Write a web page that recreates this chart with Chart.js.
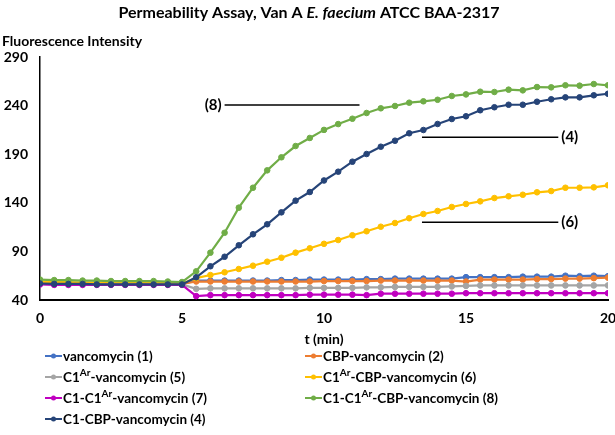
<!DOCTYPE html>
<html><head><meta charset="utf-8">
<script src="https://cdn.jsdelivr.net/npm/chart.js@4.4.1/dist/chart.umd.min.js"></script>
<style>html,body{margin:0;padding:0;background:#fff}#wrap{width:615px;height:435px;position:relative}</style>
</head><body><div id="wrap"><canvas id="c"></canvas></div>
<script>
const times = [0,0.5,1,1.5,2,2.5,3,3.5,4,4.5,5,5.5,6,6.5,7,7.5,8,8.5,9,9.5,10,10.5,11,11.5,12,12.5,13,13.5,14,14.5,15,15.5,16,16.5,17,17.5,18,18.5,19,19.5,20];
const xTicks = [0,5,10,15,20];
const yTicks = [40,90,140,190,240,290];

const vancomycin1 = [57.5,57,57,57,56.5,56.5,56.5,56.5,56.5,56.5,56.5,
  60,60,60,60,60,60,60.5,60.5,61,61, 61,61,61.5,61.5,62,62,62,62,62,63.5, 63.5,63.5,63.5,64,64,64,65,64.5,65,64.5];
const cbpVancomycin2 = [58,57.5,57.5,57.5,57,57,57,57,57,57,56.5,
  59,59,59,59,59,59,59,59,59,59.5, 59.5,59.5,59.5,60,60,60,60,60,60,59, 61,61,61,61,61.5,61.5,62,62,62.5,63];
const c1arVancomycin5 = [57,56.5,56.5,56.5,56.5,56.5,56.5,56.5,56.5,56.5,56,
  51.5,52,52,52,52,52,52,52,52.5,52.5, 52.5,52.5,53,53,53.5,53.5,53.5,53.5,54,54.5, 55,55,55,55,55,55,55,55,55,55];
const c1arCbpVancomycin6 = [59,58.5,58.5,58,58,58,58,58,58,57.5,57,
  62.5,65.7,68.5,71.9,75.3,79.4,83.5,88.7,93.2,97.8, 101.7,106.6,110.7,115.4,119.2,124.1,128.5,131.6,135.7,138.8, 141.5,144.9,146.7,148.3,150.8,152.1,155.5,155.5,155.9,158];
const c1c1arVancomycin7 = [56,55.5,55.5,55.5,55.5,55.5,55.5,55.5,55.5,55.5,55.5,
  44,45,45,45,45,45,45,45,45.5,45.5, 45.5,45.5,45,46.5,46.5,46.5,46.5,46.5,46.5,47, 47,47,47,47,47,47,47,47,47,47];
const c1c1arCbpVancomycin8 = [61,60.5,60.5,60,60,59.5,59.5,59.5,59.5,59,58.5,
  69.5,88.7,109.2,135,155.5,173.4,186.8,198.4,206.7,215, 221,226.5,232.4,237.2,239.6,243,244.4,246,249.9,251.5, 254.3,254,256.4,255.7,259.1,258.8,260.9,260.5,262.2,260.9];
const c1CbpVancomycin4 = [57,56.5,56.5,56.5,56,56,56,56,56,56,56,
  63.4,74.7,84.5,96.3,107.6,117.9,130.2,142.2,151.1,163, 172,182.3,190.2,197.7,203.9,211.5,214.9,221.1,226.2,229, 235.2,238.3,240.9,240.9,244,246.5,248.5,248.5,250.6,252.2];

const seriesLabels = ['vancomycin (1)','CBP-vancomycin (2)','C1{Ar}-vancomycin (5)','C1{Ar}-CBP-vancomycin (6)','C1-C1{Ar}-vancomycin (7)','C1-C1{Ar}-CBP-vancomycin (8)','C1-CBP-vancomycin (4)'];
const seriesValues = [vancomycin1,cbpVancomycin2,c1arVancomycin5,c1arCbpVancomycin6,c1c1arVancomycin7,c1c1arCbpVancomycin8,c1CbpVancomycin4];
const seriesColors = ['#4472C4','#ED7D31','#A5A5A5','#FFC000','#C000C0','#70AD47','#264478'];

const annotations = [
  {text:'(8)', x0:6.5, x1:11.25, y:240.5, side:'left'},
  {text:'(4)', x0:13.45, x1:18.25, y:207.5, side:'right'},
  {text:'(6)', x0:13.45, x1:18.25, y:120, side:'right'}
];

const FONT = 'Lato, "Open Sans", sans-serif';

function drawRich(ctx, str, x, y, size) {
  const parts = str.split(/(\{[^}]*\})/).filter(s=>s.length);
  let cx = x;
  for (const p of parts) {
    if (p[0]==='{') {
      ctx.font = 'bold ' + Math.round(size*0.75) + 'px ' + FONT;
      ctx.fillText(p.slice(1,-1), cx, y - size*0.4);
      cx += ctx.measureText(p.slice(1,-1)).width;
    } else {
      ctx.font = 'bold ' + size + 'px ' + FONT;
      ctx.fillText(p, cx, y);
      cx += ctx.measureText(p).width;
    }
  }
}

const decor = {
  id:'decor',
  afterDraw(chart) {
    const ctx = chart.ctx; const xs = chart.scales.x, ys = chart.scales.y;
    ctx.save();
    ctx.fillStyle = '#000'; ctx.textBaseline = 'middle';
    // title
    const segs = [['Permeability Assay, Van A ','bold'],['E. faecium','italic bold'],[' ATCC BAA-2317','bold']];
    let total = 0;
    for (const s of segs) { ctx.font = s[1]+' 16px '+FONT; total += ctx.measureText(s[0]).width; }
    let tx = 309 - total/2;
    for (const s of segs) { ctx.font = s[1]+' 16px '+FONT; ctx.textAlign='left'; ctx.fillText(s[0], tx, 13); tx += ctx.measureText(s[0]).width; }
    // y title
    ctx.font = 'bold 14px '+FONT; ctx.textAlign='left';
    ctx.fillText('Fluorescence Intensity', 2, 41);
    // annotations
    ctx.strokeStyle = '#000'; ctx.lineWidth = 1.5;
    ctx.font = 'bold 15px '+FONT;
    for (const a of annotations) {
      const px0 = xs.getPixelForValue(a.x0), px1 = xs.getPixelForValue(a.x1), py = ys.getPixelForValue(a.y);
      ctx.beginPath(); ctx.moveTo(px0, py); ctx.lineTo(px1, py); ctx.stroke();
      if (a.side==='left') { ctx.textAlign='right'; ctx.fillText(a.text, px0-3, py); }
      else { ctx.textAlign='left'; ctx.fillText(a.text, px1+3, py); }
    }
    // legend
    ctx.textAlign='left';
    const colX = [45, 305], rowY = [356, 377, 398, 419];
    seriesLabels.forEach((lab, i) => {
      const x = colX[i%2], y = rowY[Math.floor(i/2)];
      ctx.strokeStyle = seriesColors[i]; ctx.lineWidth = 2;
      ctx.beginPath(); ctx.moveTo(x, y); ctx.lineTo(x+17, y); ctx.stroke();
      ctx.fillStyle = seriesColors[i];
      ctx.beginPath(); ctx.arc(x+8.5, y, 2.5, 0, Math.PI*2); ctx.fill();
      ctx.fillStyle = '#000';
      drawRich(ctx, lab, x+18, y+1, 13.5);
    });
    ctx.restore();
  }
};

const datasets = seriesValues.map((vals, i) => ({
  label: seriesLabels[i].replace(/[{}]/g,''),
  data: times.map((t, k) => ({x:t, y:vals[k]})),
  borderColor: seriesColors[i], backgroundColor: seriesColors[i],
  pointBackgroundColor: seriesColors[i], pointBorderColor: seriesColors[i],
  borderWidth: 2.2, pointRadius: 2.8, pointBorderWidth: 1, tension: 0,
  order: seriesLabels.length - i
}));

const tickFont = {family: FONT, weight:'bold', size:14};
new Chart(document.getElementById('c'), {
  type:'line',
  data:{datasets},
  options:{
    responsive:true, maintainAspectRatio:false, animation:false,
    layout:{padding:{top:57,left:0,right:7,bottom:85}},
    plugins:{legend:{display:false}, title:{display:false}, tooltip:{enabled:false}},
    scales:{
      x:{type:'linear', min:0, max:20,
        afterBuildTicks:s=>{s.ticks = xTicks.map(v=>({value:v}));},
        grid:{display:false, drawTicks:false},
        border:{display:true, color:'#000', width:2},
        ticks:{color:'#000', font:tickFont, padding:10, maxRotation:0, autoSkip:false},
        title:{display:true, text:'t (min)', color:'#000', font:tickFont, padding:{top:2,bottom:2}},
        afterFit:s=>{s.height=50; s.paddingLeft=0; s.paddingRight=0;}
      },
      y:{type:'linear', min:40, max:290,
        afterBuildTicks:s=>{s.ticks = yTicks.map(v=>({value:v}));},
        grid:{display:false, drawTicks:false},
        border:{display:true, color:'#000', width:1.5},
        ticks:{color:'#000', font:tickFont, padding:12, autoSkip:false},
        afterFit:s=>{s.width=40; s.paddingTop=0; s.paddingBottom=0;}
      }
    }
  },
  plugins:[decor]
});
</script>
</body></html>
